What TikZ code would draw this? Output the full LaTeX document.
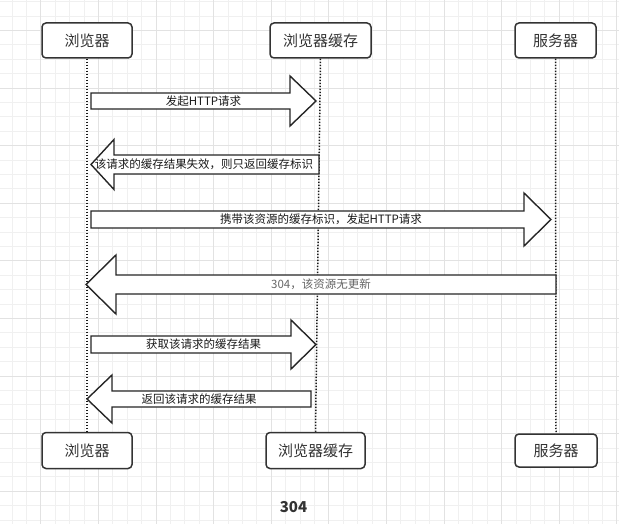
\documentclass[tikz,border=0pt]{standalone}
\usepackage{fontspec}
\setmainfont{Noto Sans CJK SC}
\usepackage{tikz}

\definecolor{gridminor}{HTML}{F0F0F0}
\definecolor{gridmajor}{HTML}{E2E2E2}
\definecolor{boxline}{HTML}{333333}

\tikzset{
  actor/.style={draw=boxline, line width=1.5pt, rounded corners=4pt, fill=white,
    inner sep=0pt, font=\fontsize{15}{17}\selectfont, text=boxline},
  lifeline/.style={draw=black!90, line width=1.5pt, dash pattern=on 1.4pt off 1.6pt},
  blockarrow/.style={draw=black!85, line width=1.4pt, fill=white, line join=miter},
  msg/.style={font=\fontsize{11.5}{13}\selectfont, inner sep=0pt, text=black!90},
}

\begin{document}
\begin{tikzpicture}[x=1pt,y=-1pt,>=stealth]
\useasboundingbox[fill=white] (0,0) rectangle (619,524);
% background grid
\foreach \i in {0,...,42} \draw[gridminor, line width=0.8pt] ({12+14.4*\i},0) -- ({12+14.4*\i},524);
\foreach \j in {0,...,36} \draw[gridminor, line width=0.8pt] (0,{1.6+14.4*\j}) -- (619,{1.6+14.4*\j});
\foreach \i in {0,...,10} \draw[gridmajor, line width=0.8pt] ({40.8+57.6*\i},0) -- ({40.8+57.6*\i},524);
\foreach \j in {0,...,8} \draw[gridmajor, line width=0.8pt] (0,{30.4+57.6*\j}) -- (619,{30.4+57.6*\j});

% participants
\node[actor, minimum width=90pt, minimum height=35pt] (browser) at (87,40.5) {浏览器};
\node[actor, minimum width=101pt, minimum height=35pt] (cache) at (320.5,40.5) {浏览器缓存};
\node[actor, minimum width=81pt, minimum height=35pt] (server) at (555.5,40.5) {服务器};
\node[actor, minimum width=90pt, minimum height=36pt] (browserB) at (87,450.5) {浏览器};
\node[actor, minimum width=99pt, minimum height=36pt] (cacheB) at (315.5,450.5) {浏览器缓存};
\node[actor, minimum width=82pt, minimum height=33pt] (serverB) at (556,450.5) {服务器};

\draw[lifeline] (browser.south) -- (browserB.north);
\draw[lifeline] (cache.south) -- (cacheB.north);
\draw[lifeline] (server.south) -- (serverB.north);

% messages
\draw[blockarrow] (91,93) -- (290,93) -- (290,76) -- (316,101) -- (290,126) -- (290,109) -- (91,109) -- cycle;
\node[msg] (m1) at (203.5,101) {发起HTTP请求};

\draw[blockarrow] (319,155) -- (114,155) -- (114,139.5) -- (91,164.5) -- (114,189.5) -- (114,174) -- (319,174) -- cycle;
\node[msg] (m2) at (204,164.5) {该请求的缓存结果失效，则只返回缓存标识};

\draw[blockarrow] (91,211) -- (524,211) -- (524,193) -- (551,219.5) -- (524,246) -- (524,228) -- (91,228) -- cycle;
\node[msg] (m3) at (321,219.5) {携带该资源的缓存标识，发起HTTP请求};

\draw[blockarrow] (556,275) -- (116,275) -- (116,255) -- (86,284.5) -- (116,314) -- (116,294) -- (556,294) -- cycle;
\node[msg, text=black!60] (m4) at (321,284.5) {304，该资源无更新};

\draw[blockarrow] (91,336) -- (291,336) -- (291,320) -- (316,344.5) -- (291,369) -- (291,353) -- (91,353) -- cycle;
\node[msg] (m5) at (203.5,344.5) {获取该请求的缓存结果};

\draw[blockarrow] (311,391) -- (112,391) -- (112,375) -- (87,399) -- (112,423) -- (112,407) -- (311,407) -- cycle;
\node[msg] (m6) at (199,399) {返回该请求的缓存结果};

\node[font=\fontsize{15}{17}\selectfont\bfseries, text=boxline] (caption) at (293.5,507) {304};
\end{tikzpicture}
\end{document}
